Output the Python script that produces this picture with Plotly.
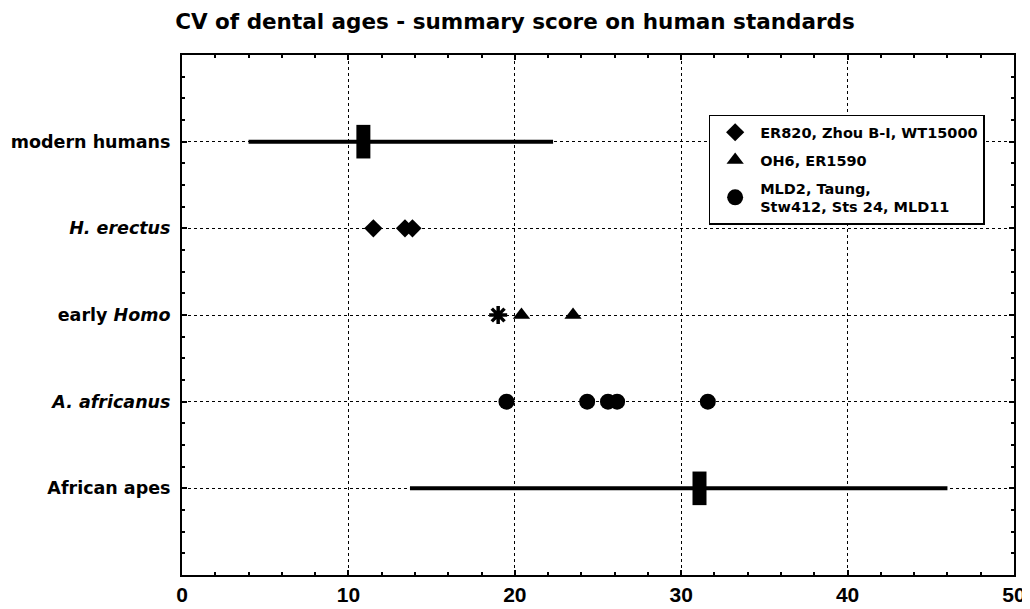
import plotly.graph_objects as go

categories = ["modern humans", "<i>H. erectus</i>", "early <i>Homo</i>", "<i>A. africanus</i>", "African apes"]
cat_pos = [5, 4, 3, 2, 1]

# ranges (min, max) and mean markers
modern_range = [4.0, 22.3]
modern_mean = 10.9
apes_range = [13.7, 46.0]
apes_mean = 31.1

erectus_vals = [11.5, 13.4, 13.85]
early_homo_tri = [20.4, 23.5]
early_homo_star = [19.0]
africanus_vals = [19.5, 24.35, 25.6, 26.15, 31.6]

legend_names = ["ER820, Zhou B-I, WT15000", "OH6, ER1590", "MLD2, Taung,<br>Stw412, Sts 24, MLD11"]

FONT = "DejaVu Sans, sans-serif"
NUMFONT = "Liberation Sans, Arial, sans-serif"
fig = go.Figure()

# range lines
for rng, y in [(modern_range, cat_pos[0]), (apes_range, cat_pos[4])]:
    fig.add_trace(go.Scatter(x=rng, y=[y, y], mode="lines",
                             line=dict(color="black", width=4), showlegend=False, hoverinfo="skip"))
# mean rectangles
for m, y in [(modern_mean, cat_pos[0]), (apes_mean, cat_pos[4])]:
    fig.add_trace(go.Scatter(x=[m], y=[y], mode="markers",
                             marker=dict(symbol="line-ns", size=24, color="black",
                                         line=dict(color="black", width=14)),
                             showlegend=False))

fig.add_trace(go.Scatter(x=erectus_vals, y=[cat_pos[1]] * len(erectus_vals), mode="markers",
                         name=legend_names[0], legendgroup="g1",
                         marker=dict(symbol="diamond", size=14, color="black")))
fig.add_trace(go.Scatter(x=early_homo_tri, y=[cat_pos[2]] * len(early_homo_tri), mode="markers",
                         name=legend_names[1], legendgroup="g2",
                         marker=dict(symbol="triangle-up", size=15, color="black")))
fig.add_trace(go.Scatter(x=africanus_vals, y=[cat_pos[3]] * len(africanus_vals), mode="markers",
                         name=legend_names[2], legendgroup="g3",
                         marker=dict(symbol="circle", size=16, color="black")))
fig.add_trace(go.Scatter(x=early_homo_star, y=[cat_pos[2]], mode="markers", showlegend=False,
                         marker=dict(symbol="asterisk-open", size=15, color="black",
                                     line=dict(color="black", width=3.5))))

fig.update_layout(
    width=1022, height=601,
    paper_bgcolor="white", plot_bgcolor="white",
    margin=dict(l=174, r=16, t=47, b=34),
    font=dict(family=FONT, color="black"),
    title=dict(text="CV of dental ages - summary score on human standards",
               x=0.496, xanchor="center", y=0.978, yanchor="middle",
               font=dict(size=21.5, family=FONT, weight="bold")),
    legend=dict(x=0.633, y=0.885, xanchor="left", yanchor="top",
                bgcolor="white", bordercolor="black", borderwidth=1.5,
                font=dict(size=14.5, family=FONT, weight="bold"),
                itemsizing="trace", itemwidth=40, traceorder="grouped", tracegroupgap=6),
    showlegend=True,
)

fig.update_xaxes(range=[0, 50], tickvals=[0, 10, 20, 30, 40, 50], automargin=False,
                 showgrid=True, gridcolor="black", griddash="dot", gridwidth=1,
                 showline=True, linecolor="black", linewidth=2, mirror="allticks",
                 ticks="inside", ticklen=5, tickwidth=1.5, tickcolor="black",
                 minor=dict(dtick=2, ticks="inside", ticklen=3, tickcolor="black", showgrid=False),
                 tickfont=dict(size=21, family=NUMFONT, weight="bold"), zeroline=False)
fig.update_yaxes(range=[0, 6], tickvals=cat_pos, ticktext=categories, automargin=False,
                 showgrid=True, gridcolor="black", griddash="dot", gridwidth=1,
                 showline=True, linecolor="black", linewidth=2, mirror="allticks",
                 ticks="inside", ticklen=5, tickwidth=1.5, tickcolor="black",
                 minor=dict(dtick=0.25, ticks="inside", ticklen=3, tickcolor="black", showgrid=False),
                 tickfont=dict(size=17.5, family=FONT, weight="bold"), zeroline=False,
                 ticklabelstandoff=6)

fig.write_html("out.html")
